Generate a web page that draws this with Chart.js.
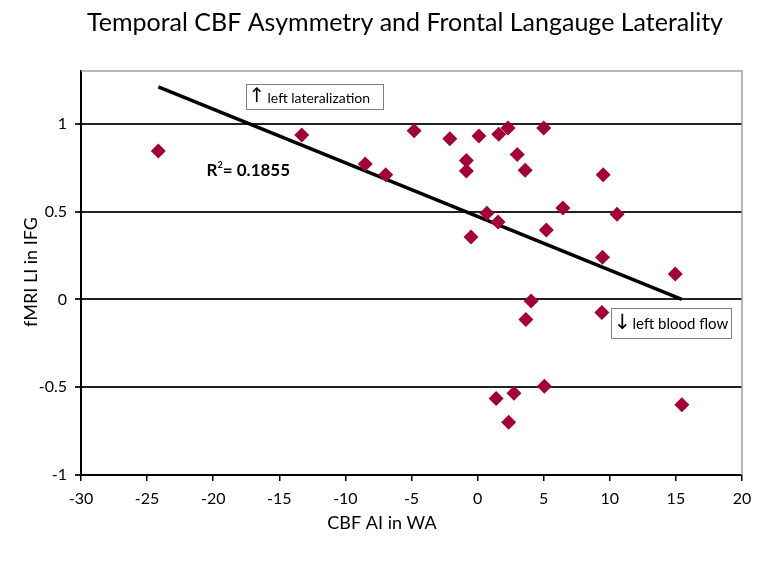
<!DOCTYPE html>
<html>
<head>
<meta charset="utf-8">
<script src="https://cdn.jsdelivr.net/npm/chart.js@4.4.1/dist/chart.umd.min.js"></script>
<style>
    html, body { margin: 0; padding: 0; background: #fff; }
    #wrap { width: 762px; height: 563px; }
</style>
</head>
<body>
<div id="wrap"><canvas id="scatterChart" width="762" height="563"></canvas></div>
<script>
// values
const cbfAI = [-24.15, -13.3, -8.5, -6.95, -4.8, -2.1, -0.85, -0.85, 0.1, -0.5, 0.7, 1.55, 1.6, 2.3, 3.0, 3.6, 5.0, 5.2, 6.45, 9.5, 10.55, 9.45, 14.95, 4.05, 3.65, 9.4, 5.05, 2.75, 1.4, 2.35, 15.45];
const fmriLI = [0.845, 0.935, 0.77, 0.71, 0.96, 0.915, 0.79, 0.73, 0.93, 0.355, 0.49, 0.44, 0.94, 0.975, 0.825, 0.735, 0.975, 0.395, 0.52, 0.71, 0.485, 0.24, 0.145, -0.01, -0.115, -0.075, -0.495, -0.535, -0.565, -0.7, -0.6];
const trendX = [-24.15, 15.45];
const trendY = [1.21, 0.0];
const xTicks = [-30, -25, -20, -15, -10, -5, 0, 5, 10, 15, 20];
const yTicks = [-1, -0.5, 0, 0.5, 1];
const rSquared = '0.1855';

const fontName = 'Lato, "Open Sans", sans-serif';
const markerColor = '#A3003A';

const points = cbfAI.map((x, i) => ({ x: x, y: fmriLI[i] }));
const trend = trendX.map((x, i) => ({ x: x, y: trendY[i] }));

// texts that Excel put on top of the plot
const extrasPlugin = {
    id: 'extras',
    afterDraw(chart) {
        const ctx = chart.ctx;
        const area = chart.chartArea;
        const xs = chart.scales.x;
        const ys = chart.scales.y;
        ctx.save();

        // gray border top / right
        ctx.strokeStyle = '#a0a0a0';
        ctx.lineWidth = 1.5;
        ctx.beginPath();
        ctx.moveTo(area.left, area.top);
        ctx.lineTo(area.right, area.top);
        ctx.lineTo(area.right, area.bottom);
        ctx.stroke();

        ctx.fillStyle = '#000';
        ctx.textBaseline = 'middle';

        // title
        ctx.textAlign = 'center';
        ctx.font = '25px ' + fontName;
        ctx.fillText('Temporal CBF Asymmetry and Frontal Langauge Laterality', 405, 23);

        // axis titles
        ctx.font = '18px ' + fontName;
        ctx.fillText('CBF AI in WA', 382, 523);
        ctx.save();
        ctx.translate(31, 272);
        ctx.rotate(-Math.PI / 2);
        ctx.fillText('fMRI LI in IFG', 0, 0);
        ctx.restore();

        // R squared label
        ctx.textAlign = 'left';
        ctx.textBaseline = 'alphabetic';
        let rx = xs.getPixelForValue(-20.5);
        const ry = ys.getPixelForValue(0.7);
        ctx.font = 'bold 17px ' + fontName;
        ctx.fillText('R', rx, ry);
        rx += ctx.measureText('R').width;
        ctx.font = 'bold 9px ' + fontName;
        ctx.fillText('2', rx, ry - 8);
        rx += ctx.measureText('2').width;
        ctx.font = 'bold 17px ' + fontName;
        ctx.fillText('= ' + rSquared, rx, ry);

        // annotation boxes
        const drawBox = (xv, yv, w, h, arrow, label, size) => {
            const bx = Math.round(xs.getPixelForValue(xv)) + 0.5;
            const by = Math.round(ys.getPixelForValue(yv)) + 0.5;
            ctx.fillStyle = '#fff';
            ctx.fillRect(bx, by, w, h);
            ctx.strokeStyle = '#808080';
            ctx.lineWidth = 1;
            ctx.strokeRect(bx, by, w, h);
            ctx.fillStyle = '#000';
            ctx.textBaseline = 'middle';
            ctx.font = (size + 6) + 'px "DejaVu Sans", sans-serif';
            ctx.fillText(arrow, bx + 2, by + h / 2);
            ctx.font = size + 'px ' + fontName;
            ctx.fillText(label, bx + 21, by + h / 2 + 1);
        };
        drawBox(-17.55, 1.227, 137, 25, '\u2191', 'left lateralization', 14);
        drawBox(10.1, -0.05, 120, 30, '\u2193', 'left blood flow', 15);

        ctx.restore();
    }
};

new Chart(document.getElementById('scatterChart'), {
    type: 'scatter',
    data: {
        datasets: [{
            label: 'fMRI LI',
            data: points,
            pointStyle: 'rectRot',
            pointRadius: 7.5,
            backgroundColor: markerColor,
            borderColor: markerColor,
            borderWidth: 0,
            order: 0
        }, {
            label: 'trend',
            data: trend,
            showLine: true,
            borderColor: '#000',
            borderWidth: 3.5,
            pointRadius: 0,
            order: 1
        }]
    },
    options: {
        responsive: false,
        animation: false,
        layout: { padding: { top: 71, right: 20, left: 0, bottom: 0 } },
        plugins: {
            legend: { display: false },
            tooltip: { enabled: false },
            title: { display: false }
        },
        scales: {
            x: {
                type: 'linear',
                min: -30,
                max: 20,
                afterFit: (scale) => { scale.height = 88; },
                afterBuildTicks: (scale) => { scale.ticks = xTicks.map(v => ({ value: v })); },
                grid: {
                    drawOnChartArea: false,
                    drawTicks: true,
                    tickLength: 6,
                    color: '#000',
                    lineWidth: 1.5
                },
                border: { color: '#000', width: 2 },
                ticks: {
                    color: '#000',
                    padding: 8,
                    maxRotation: 0,
                    callback: (v) => String(v),
                    font: { family: fontName, size: 16 }
                }
            },
            y: {
                type: 'linear',
                min: -1,
                max: 1.3,
                afterFit: (scale) => { scale.width = 81; },
                afterBuildTicks: (scale) => { scale.ticks = yTicks.map(v => ({ value: v })); },
                grid: {
                    drawTicks: true,
                    tickLength: 6,
                    color: '#222',
                    lineWidth: 2
                },
                border: { color: '#000', width: 2 },
                ticks: {
                    color: '#000',
                    padding: 8,
                    callback: (v) => String(v),
                    font: { family: fontName, size: 16 }
                }
            }
        }
    },
    plugins: [extrasPlugin]
});
</script>
</body>
</html>
